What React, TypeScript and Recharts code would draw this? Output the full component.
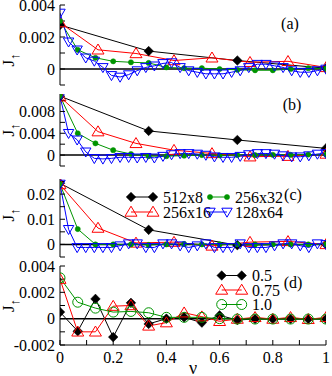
import React from 'react';
import { LineChart, Line, XAxis, YAxis, ReferenceLine } from 'recharts';

const FONT = '"Liberation Serif", "Times New Roman", serif';

// momentum positions (nu)
const nu4 = [0, 0.3333, 0.6667, 1];
const nu8 = [0, 0.1429, 0.2857, 0.4286, 0.5714, 0.7143, 0.8571, 1];
const nu16 = [0, 0.0667, 0.1333, 0.2, 0.2667, 0.3333, 0.4, 0.4667, 0.5333, 0.6, 0.6667, 0.7333, 0.8, 0.8667, 0.9333, 1];
const nu32 = [0, 0.0323, 0.0645, 0.0968, 0.129, 0.1613, 0.1935, 0.2258, 0.2581, 0.2903, 0.3226, 0.3548, 0.3871, 0.4194, 0.4516, 0.4839, 0.5161, 0.5484, 0.5806, 0.6129, 0.6452, 0.6774, 0.7097, 0.7419, 0.7742, 0.8065, 0.8387, 0.871, 0.9032, 0.9355, 0.9677, 1];

// series names
const sizeNames = ['512x8', '256x16', '256x32', '128x64'];
const fillNames = ['0.5', '0.75', '1.0'];
const panelLetters = ['(a)', '(b)', '(c)', '(d)'];

// panel (a)
const a512 = [0.00275, 0.00112, 0.00053, 0.00005];
const a256x16 = [0.0029, 0.0012, 0.00097, 0.00053, 0.0007, 0.00042, 0.00048, 0.0001];
const a256x32 = [0.003, 0.0012, 0.0007, 0.00048, 0.00042, 0.00038, 0.0001, 0.00005, 0.00005, 0.0, -0.00005, -0.00008, -0.00008, 0.0, 0.00005, 0.00002];
const a128 = [0.0035, 0.0017, 0.0012, 0.0007, 0.0005, 0.0001, -0.0004, -0.0005, -0.00035, -0.0001, 0.0001, 0.0002, 0.00035, 0.0004, 0.0001, -0.0001, -0.0002, -0.0003, -0.0003, -0.0003, -0.0002, -0.0001, 0.0001, 0.0003, 0.0003, 0.0002, 0.0001, -0.0001, -0.0002, -0.0002, -0.0001, 0.0];

// panel (b)
const b512 = [0.0108, 0.00443, 0.00277, 0.00123];
const b256x16 = [0.0107, 0.0043, 0.00215, 0.0009, 0.0003, -0.0003, -0.0002, 0.0002];
const b256x32 = [0.0108, 0.004, 0.00215, 0.0009, 0.0002, -0.0002, -0.0002, -0.0001, 0.0, -0.00005, 0.0, 0.0, 0.00005, 0.00005, 0.0001, 0.0001];
const b128 = [0.0108, 0.004, 0.0028, 0.0006, -0.0006, -0.0007, -0.0006, -0.0004, -0.0004, -0.0005, -0.0004, -0.0005, -0.0002, 0.0001, 0.0003, 0.0003, 0.0002, 0.0, -0.0003, -0.0004, -0.0004, -0.0002, 0.0001, 0.0003, 0.0003, 0.0002, -0.0001, -0.0003, -0.0003, -0.0001, 0.0002, 0.0003];

// panel (c)
const c512 = [0.0243, 0.0058, -0.0003, 0.0];
const c256x16 = [0.0238, 0.0065, 0.0006, 0.0009, -0.0006, 0.0009, 0.0012, 0.0];
const c256x32 = [0.024, 0.0061, 0.0, 0.0, 0.0, -0.0002, 0.0, 0.0002, 0.0, 0.0, 0.0, 0.0, 0.0, 0.0, 0.0, 0.0];
const c128 = [0.024, 0.006, -0.0012, -0.0012, -0.0012, -0.0012, -0.0012, -0.0005, 0.0003, 0.0003, -0.0012, -0.0012, 0.0003, 0.0003, -0.0005, -0.0012, -0.0005, 0.0003, -0.0012, -0.0012, -0.0012, 0.0003, -0.0012, -0.0012, -0.0012, -0.0005, 0.0003, 0.0003, -0.0005, -0.0012, 0.0003, 0.0];

// panel (d)
const d05 = [0.0005, -0.00095, 0.0015, -0.0014, 0.0012, -0.0004, 0.0, 0.0001, -0.0003, 0.00025, -0.0001, -0.00003, -0.00003, -0.00003, -0.00003, -0.00003];
const d075 = [0.003, -0.001, -0.001, 0.00095, 0.001, -0.00055, -0.0003, 0.00045, 0.00015, -0.0002, -0.00003, 0.0001, -0.00003, 0.0001, -0.00005, 0.0001];
const d10 = [0.0031, 0.00125, 0.0008, 0.0005, 0.00055, 0.00045, 0.0001, 0.0001, 0.0001, 0.0, -0.00003, -0.00003, -0.00003, -0.00003, -0.00003, -0.00003];

// ticks
const xTicks = [0, 0.1, 0.2, 0.3, 0.4, 0.5, 0.6, 0.7, 0.8, 0.9, 1];
const xLabels = [0, 0.2, 0.4, 0.6, 0.8, 1];
const aTicks = [-0.001, 0, 0.001, 0.002, 0.003, 0.004];
const aLabels = [0, 0.002, 0.004];
const bTicks = [-0.002, 0, 0.002, 0.004, 0.006, 0.008, 0.01];
const bLabels = [0, 0.004, 0.008];
const cTicks = [-0.005, 0, 0.005, 0.01, 0.015, 0.02, 0.025];
const cLabels = [0, 0.01, 0.02];
const dTicks = [-0.002, -0.001, 0, 0.001, 0.002, 0.003, 0.004];
const dLabels = [-0.002, 0, 0.002, 0.004];

const BLACK = '#000000';
const RED = '#ff0000';
const GREEN = '#009400';
const BLUE = '#0000ff';

const zip = (xs: number[], ys: number[]) => ys.map((y, i) => ({ x: xs[i], y }));

type Shape = 'diamond' | 'triUp' | 'triDown' | 'dot' | 'circle';

function Marker({ shape, cx, cy, color }: { shape: Shape; cx: number; cy: number; color: string }) {
  switch (shape) {
    case 'diamond':
      return <polygon points={`${cx},${cy - 4.8} ${cx + 4.8},${cy} ${cx},${cy + 4.8} ${cx - 4.8},${cy}`} fill={color} stroke={color} strokeWidth={0.5} />;
    case 'triUp':
      return <polygon points={`${cx},${cy - 5.8} ${cx + 6},${cy + 4.2} ${cx - 6},${cy + 4.2}`} fill="none" stroke={color} strokeWidth={1} />;
    case 'triDown':
      return <polygon points={`${cx},${cy + 5.2} ${cx + 5.2},${cy - 3.8} ${cx - 5.2},${cy - 3.8}`} fill="none" stroke={color} strokeWidth={1} />;
    case 'dot':
      return <circle cx={cx} cy={cy} r={2.6} fill={color} stroke={color} strokeWidth={0.5} />;
    default:
      return <circle cx={cx} cy={cy} r={5} fill="none" stroke={color} strokeWidth={1} />;
  }
}

const dotFn = (shape: Shape, color: string) => (p: any) => {
  if (p.cx == null || p.cy == null) return <g key={`e${p.index}`} />;
  return <Marker key={`m${p.index}`} shape={shape} cx={p.cx} cy={p.cy} color={color} />;
};

type Series = { name: string; data: { x: number; y: number }[]; color: string; shape: Shape };

const panelA: Series[] = [
  { name: sizeNames[0], data: zip(nu4, a512), color: BLACK, shape: 'diamond' },
  { name: sizeNames[1], data: zip(nu8, a256x16), color: RED, shape: 'triUp' },
  { name: sizeNames[2], data: zip(nu16, a256x32), color: GREEN, shape: 'dot' },
  { name: sizeNames[3], data: zip(nu32, a128), color: BLUE, shape: 'triDown' },
];
const panelB: Series[] = [
  { name: sizeNames[0], data: zip(nu4, b512), color: BLACK, shape: 'diamond' },
  { name: sizeNames[1], data: zip(nu8, b256x16), color: RED, shape: 'triUp' },
  { name: sizeNames[2], data: zip(nu16, b256x32), color: GREEN, shape: 'dot' },
  { name: sizeNames[3], data: zip(nu32, b128), color: BLUE, shape: 'triDown' },
];
const panelC: Series[] = [
  { name: sizeNames[0], data: zip(nu4, c512), color: BLACK, shape: 'diamond' },
  { name: sizeNames[1], data: zip(nu8, c256x16), color: RED, shape: 'triUp' },
  { name: sizeNames[2], data: zip(nu16, c256x32), color: GREEN, shape: 'dot' },
  { name: sizeNames[3], data: zip(nu32, c128), color: BLUE, shape: 'triDown' },
];
const panelD: Series[] = [
  { name: fillNames[0], data: zip(nu16, d05), color: BLACK, shape: 'diamond' },
  { name: fillNames[1], data: zip(nu16, d075), color: RED, shape: 'triUp' },
  { name: fillNames[2], data: zip(nu16, d10), color: GREEN, shape: 'circle' },
];

const fmtFrom = (labels: number[]) => (v: number) =>
  labels.some((l) => Math.abs(l - v) < 1e-9) ? String(v) : '';

function YLab({ cx, cy }: { cx: number; cy: number }) {
  return (
    <text
      x={cx}
      y={cy}
      transform={`rotate(-90, ${cx}, ${cy})`}
      textAnchor="middle"
      fontSize={17}
      fontFamily={FONT}
      fill="#000"
    >
      J<tspan fontSize={13} dy={5}>↑</tspan>
    </text>
  );
}

// legend of panel (c), drawn at page coordinates (legend box origin)
function SizeLegend({ x, y }: { x: number; y: number }) {
  const colX = [6, 85];
  const textX = [38, 110];
  const sampleW = [22, 17];
  const rowY = [10, 25];
  const place = [
    [0, 0],
    [0, 1],
    [1, 0],
    [1, 1],
  ];
  return (
    <g transform={`translate(${x},${y})`}>
      {panelC.map((s, i) => {
        const [col, row] = place[i];
        const x0 = colX[col];
        const x1 = x0 + sampleW[col];
        const yy = rowY[row];
        return (
          <g key={s.name}>
            <line x1={x0} y1={yy} x2={x1} y2={yy} stroke={s.color} strokeWidth={1} />
            <Marker shape={s.shape} cx={x0} cy={yy} color={s.color} />
            <Marker shape={s.shape} cx={x1} cy={yy} color={s.color} />
            <text x={textX[col]} y={yy + 5.5} fontSize={16} fontFamily={FONT} fill="#000">{s.name}</text>
          </g>
        );
      })}
    </g>
  );
}

function FillLegend({ x, y }: { x: number; y: number }) {
  const rowY = [9.5, 24, 38.5];
  return (
    <g transform={`translate(${x},${y})`}>
      {panelD.map((s, i) => (
        <g key={s.name}>
          <line x1={6.7} y1={rowY[i]} x2={26.7} y2={rowY[i]} stroke={s.color} strokeWidth={1} />
          <Marker shape={s.shape} cx={6.7} cy={rowY[i]} color={s.color} />
          <Marker shape={s.shape} cx={26.7} cy={rowY[i]} color={s.color} />
          <text x={37} y={rowY[i] + 5.5} fontSize={16} fontFamily={FONT} fill="#000">{s.name}</text>
        </g>
      ))}
    </g>
  );
}

type PanelProps = {
  top: number;
  height: number;
  mTop: number;
  mBottom: number;
  domain: [number, number];
  yTicks: number[];
  yLabels: number[];
  series: Series[];
  showX: boolean;
  labelShift: number;
};

const tickStyle = { fill: '#000', fontSize: 16, fontFamily: FONT };

function Panel(p: PanelProps) {
  const xH = p.showX ? 31 : 0;
  const plotH = p.height - p.mTop - p.mBottom - xH;
  return (
    <div style={{ position: 'absolute', left: 0, top: p.top, width: 332, height: p.height }}>
      <LineChart width={332} height={p.height} margin={{ top: p.mTop, right: 6, bottom: p.mBottom, left: 0 }}>
        <XAxis
          xAxisId="b"
          dataKey="x"
          type="number"
          domain={[0, 1]}
          allowDataOverflow
          ticks={xTicks}
          interval={0}
          height={xH}
          tickSize={-5}
          tickMargin={12}
          tick={p.showX ? tickStyle : false}
          tickFormatter={fmtFrom(xLabels)}
          axisLine={{ stroke: '#000', strokeWidth: 1 }}
          tickLine={{ stroke: '#000', strokeWidth: 1 }}
          label={p.showX ? { value: 'ν', position: 'insideBottom', offset: 2, fontSize: 18, fontFamily: FONT, fill: '#000' } : undefined}
        />
        <XAxis
          xAxisId="t"
          orientation="top"
          dataKey="x"
          type="number"
          domain={[0, 1]}
          allowDataOverflow
          ticks={xTicks}
          interval={0}
          height={0}
          tickSize={-5}
          tick={false}
          axisLine={{ stroke: '#000', strokeWidth: 1 }}
          tickLine={{ stroke: '#000', strokeWidth: 1 }}
        />
        <YAxis
          yAxisId="l"
          type="number"
          domain={p.domain}
          allowDataOverflow
          ticks={p.yTicks}
          interval={0}
          width={60}
          tickSize={-5}
          tickMargin={10}
          tick={tickStyle}
          tickFormatter={fmtFrom(p.yLabels)}
          axisLine={{ stroke: '#000', strokeWidth: 1 }}
          tickLine={{ stroke: '#000', strokeWidth: 1 }}
          label={<YLab cx={14} cy={p.mTop + plotH / 2 + p.labelShift} />}
        />
        <YAxis
          yAxisId="r"
          orientation="right"
          type="number"
          domain={p.domain}
          allowDataOverflow
          ticks={p.yTicks}
          interval={0}
          width={0}
          tickSize={-5}
          tick={false}
          axisLine={{ stroke: '#000', strokeWidth: 1 }}
          tickLine={{ stroke: '#000', strokeWidth: 1 }}
        />
        <ReferenceLine xAxisId="b" yAxisId="l" y={0} stroke="#000" strokeWidth={1.5} />
        {p.series.map((s) => (
          <Line
            key={s.name}
            xAxisId="b"
            yAxisId="l"
            data={s.data}
            dataKey="y"
            name={s.name}
            stroke={s.color}
            strokeWidth={1}
            dot={dotFn(s.shape, s.color)}
            activeDot={false}
            isAnimationActive={false}
          />
        ))}
      </LineChart>
    </div>
  );
}

const letterPos = [
  { x: 290, y: 24 },
  { x: 292, y: 105 },
  { x: 293, y: 195 },
  { x: 293, y: 283 },
];

export default function App() {
  return (
    <div style={{ position: 'absolute', left: 0, top: 0, width: 332, height: 376, background: '#fff', fontFamily: FONT, overflow: 'hidden' }}>
      <Panel top={0} height={90} mTop={5} mBottom={5} domain={[-0.001, 0.004]} yTicks={aTicks} yLabels={aLabels} series={panelA} showX={false} labelShift={15} />
      <Panel top={88} height={82} mTop={6} mBottom={4} domain={[-0.002, 0.0112]} yTicks={bTicks} yLabels={bLabels} series={panelB} showX={false} labelShift={0} />
      <Panel top={170} height={90} mTop={9} mBottom={3} domain={[-0.005, 0.026]} yTicks={cTicks} yLabels={cLabels} series={panelC} showX={false} labelShift={-3} />
      <Panel top={255} height={121} mTop={11} mBottom={0} domain={[-0.002, 0.004]} yTicks={dTicks} yLabels={dLabels} series={panelD} showX={true} labelShift={0} />
      <svg width={332} height={376} style={{ position: 'absolute', left: 0, top: 0, pointerEvents: 'none' }}>
        <SizeLegend x={125} y={187} />
        <FillLegend x={215} y={266} />
        {panelLetters.map((t, i) => (
          <text key={t} x={letterPos[i].x} y={letterPos[i].y + 5} textAnchor="middle" fontSize={16} fontFamily={FONT} fill="#000">
            {t}
          </text>
        ))}
      </svg>
    </div>
  );
}
